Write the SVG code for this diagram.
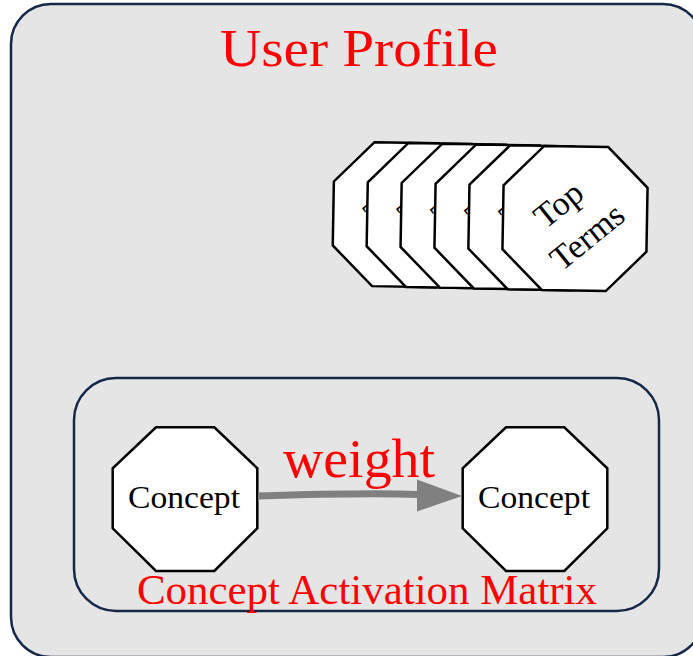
<svg xmlns="http://www.w3.org/2000/svg" xmlns:xlink="http://www.w3.org/1999/xlink" width="693" height="656" viewBox="0 0 693 656">
<style>
.cluster{fill:#e5e5e5;stroke:#16284a;stroke-width:2.5}
.oct{fill:#ffffff;stroke:#000000;stroke-width:2.5;stroke-linejoin:miter}
.lbl{font-family:"Liberation Serif","Times New Roman",serif;fill:#000000}
.red{font-family:"Liberation Serif","Times New Roman",serif;fill:#ff0000}
.edge{fill:none;stroke:#808080;stroke-width:7}
.head{fill:#808080;stroke:none}
</style>
<defs>
<g id="topterm">
<polygon class="oct" points="-32,-72 32,-72 72,-32 72,32 32,72 -32,72 -72,32 -72,-32"/>
<g transform="rotate(-40)">
<text class="lbl" x="-4" y="-10" font-size="34" text-anchor="middle">Top</text>
<text class="lbl" x="-2" y="33" font-size="34" text-anchor="middle">Terms</text>
</g>
</g>
</defs>
<rect width="693" height="656" fill="#ffffff"/>
<g id="user-profile">
<rect class="cluster" x="11" y="4" width="692" height="653" rx="40" ry="40"/>
<text class="red" x="359" y="66" font-size="52" text-anchor="middle" textLength="278" lengthAdjust="spacingAndGlyphs">User Profile</text>
</g>
<g id="top-terms">
<use xlink:href="#topterm" transform="translate(405.3,214.7) rotate(1)"/>
<use xlink:href="#topterm" transform="translate(439.2,215.5) rotate(1)"/>
<use xlink:href="#topterm" transform="translate(473.1,216.2) rotate(1)"/>
<use xlink:href="#topterm" transform="translate(507.0,217.0) rotate(1)"/>
<use xlink:href="#topterm" transform="translate(540.9,217.8) rotate(1)"/>
<use xlink:href="#topterm" transform="translate(575,218.5) rotate(1)"/>
</g>
<g id="concept-activation-matrix">
<rect class="cluster" x="74" y="378" width="585" height="233" rx="42" ry="42"/>
<text class="red" x="367" y="604" font-size="42" text-anchor="middle" textLength="460" lengthAdjust="spacingAndGlyphs">Concept Activation Matrix</text>
</g>
<g id="concept1">
<polygon class="oct" points="156,427.3 214.3,427.3 257.3,468.3 257.3,528.3 214.3,571 156,571 112.7,528.3 112.7,468.3"/>
<text class="lbl" x="184" y="507.7" font-size="32" text-anchor="middle" textLength="112" lengthAdjust="spacingAndGlyphs">Concept</text>
</g>
<g id="concept2">
<polygon class="oct" points="506,427.3 564.3,427.3 607.3,468.3 607.3,528.3 564.3,571 506,571 462.7,528.3 462.7,468.3"/>
<text class="lbl" x="534" y="507.7" font-size="32" text-anchor="middle" textLength="112" lengthAdjust="spacingAndGlyphs">Concept</text>
</g>
<g id="connectors">
<path class="edge" d="M258,496 C320,494 380,493 418,494.5"/>
<polygon class="head" points="417,479.5 462,496 417,511.5"/>
<text class="red" x="359" y="477" font-size="54" text-anchor="middle" textLength="152" lengthAdjust="spacingAndGlyphs">weight</text>
</g>
</svg>
